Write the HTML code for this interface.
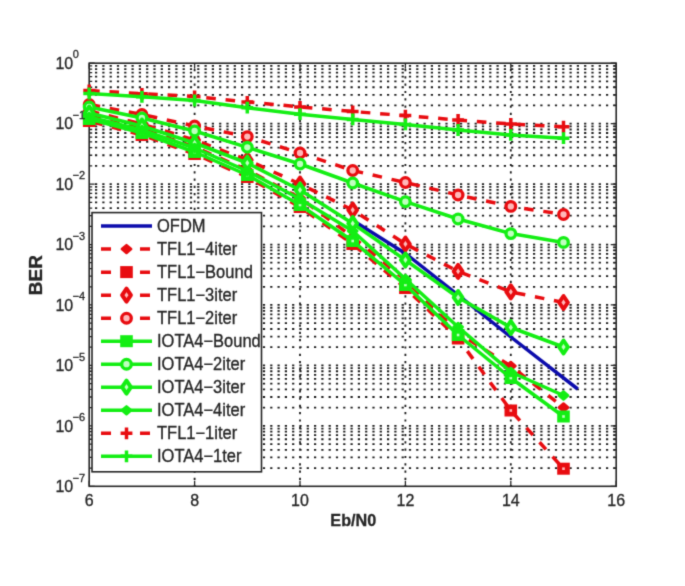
<!DOCTYPE html>
<html><head><meta charset="utf-8"><style>
html,body{margin:0;padding:0;background:#fff;}
body{width:685px;height:586px;overflow:hidden;}
svg{display:block;}
text{font-family:"Liberation Sans",sans-serif;fill:#262626;stroke:#262626;stroke-width:0.3px;}
</style></head><body>
<svg width="685" height="586" viewBox="0 0 685 586">
<defs><filter id="bl" x="0" y="0" width="685" height="586" filterUnits="userSpaceOnUse" color-interpolation-filters="sRGB"><feConvolveMatrix order="3" kernelMatrix="0.01917 0.10012 0.01917 0.10012 0.52283 0.10012 0.01917 0.10012 0.01917" divisor="1" edgeMode="duplicate"/></filter></defs>
<g filter="url(#bl)">
<rect width="685" height="586" fill="#fff"/>

<path d="M89.2 123.64H616.2 M89.2 105.45H616.2 M89.2 94.80H616.2 M89.2 87.25H616.2 M89.2 81.40H616.2 M89.2 76.61H616.2 M89.2 72.56H616.2 M89.2 69.06H616.2 M89.2 65.97H616.2 M89.2 184.09H616.2 M89.2 165.89H616.2 M89.2 155.25H616.2 M89.2 147.70H616.2 M89.2 141.84H616.2 M89.2 137.05H616.2 M89.2 133.01H616.2 M89.2 129.50H616.2 M89.2 126.41H616.2 M89.2 244.53H616.2 M89.2 226.33H616.2 M89.2 215.69H616.2 M89.2 208.14H616.2 M89.2 202.28H616.2 M89.2 197.49H616.2 M89.2 193.45H616.2 M89.2 189.94H616.2 M89.2 186.85H616.2 M89.2 304.97H616.2 M89.2 286.78H616.2 M89.2 276.13H616.2 M89.2 268.58H616.2 M89.2 262.72H616.2 M89.2 257.94H616.2 M89.2 253.89H616.2 M89.2 250.39H616.2 M89.2 247.29H616.2 M89.2 365.41H616.2 M89.2 347.22H616.2 M89.2 336.58H616.2 M89.2 329.02H616.2 M89.2 323.17H616.2 M89.2 318.38H616.2 M89.2 314.33H616.2 M89.2 310.83H616.2 M89.2 307.74H616.2 M89.2 425.86H616.2 M89.2 407.66H616.2 M89.2 397.02H616.2 M89.2 389.47H616.2 M89.2 383.61H616.2 M89.2 378.82H616.2 M89.2 374.78H616.2 M89.2 371.27H616.2 M89.2 368.18H616.2 M89.2 468.10H616.2 M89.2 457.46H616.2 M89.2 449.91H616.2 M89.2 444.05H616.2 M89.2 439.27H616.2 M89.2 435.22H616.2 M89.2 431.71H616.2 M89.2 428.62H616.2 M194.60 63.2V486.3 M300.00 63.2V486.3 M405.40 63.2V486.3 M510.80 63.2V486.3" stroke="#1c1c1c" stroke-width="1.8" stroke-dasharray="2.2 5.1" stroke-dashoffset="1.5" fill="none"/>
<path d="M89.2 63.20h5.5M616.2 63.20h-5.5 M89.2 123.64h5.5M616.2 123.64h-5.5 M89.2 105.45h3M616.2 105.45h-3 M89.2 94.80h3M616.2 94.80h-3 M89.2 87.25h3M616.2 87.25h-3 M89.2 81.40h3M616.2 81.40h-3 M89.2 76.61h3M616.2 76.61h-3 M89.2 72.56h3M616.2 72.56h-3 M89.2 69.06h3M616.2 69.06h-3 M89.2 65.97h3M616.2 65.97h-3 M89.2 184.09h5.5M616.2 184.09h-5.5 M89.2 165.89h3M616.2 165.89h-3 M89.2 155.25h3M616.2 155.25h-3 M89.2 147.70h3M616.2 147.70h-3 M89.2 141.84h3M616.2 141.84h-3 M89.2 137.05h3M616.2 137.05h-3 M89.2 133.01h3M616.2 133.01h-3 M89.2 129.50h3M616.2 129.50h-3 M89.2 126.41h3M616.2 126.41h-3 M89.2 244.53h5.5M616.2 244.53h-5.5 M89.2 226.33h3M616.2 226.33h-3 M89.2 215.69h3M616.2 215.69h-3 M89.2 208.14h3M616.2 208.14h-3 M89.2 202.28h3M616.2 202.28h-3 M89.2 197.49h3M616.2 197.49h-3 M89.2 193.45h3M616.2 193.45h-3 M89.2 189.94h3M616.2 189.94h-3 M89.2 186.85h3M616.2 186.85h-3 M89.2 304.97h5.5M616.2 304.97h-5.5 M89.2 286.78h3M616.2 286.78h-3 M89.2 276.13h3M616.2 276.13h-3 M89.2 268.58h3M616.2 268.58h-3 M89.2 262.72h3M616.2 262.72h-3 M89.2 257.94h3M616.2 257.94h-3 M89.2 253.89h3M616.2 253.89h-3 M89.2 250.39h3M616.2 250.39h-3 M89.2 247.29h3M616.2 247.29h-3 M89.2 365.41h5.5M616.2 365.41h-5.5 M89.2 347.22h3M616.2 347.22h-3 M89.2 336.58h3M616.2 336.58h-3 M89.2 329.02h3M616.2 329.02h-3 M89.2 323.17h3M616.2 323.17h-3 M89.2 318.38h3M616.2 318.38h-3 M89.2 314.33h3M616.2 314.33h-3 M89.2 310.83h3M616.2 310.83h-3 M89.2 307.74h3M616.2 307.74h-3 M89.2 425.86h5.5M616.2 425.86h-5.5 M89.2 407.66h3M616.2 407.66h-3 M89.2 397.02h3M616.2 397.02h-3 M89.2 389.47h3M616.2 389.47h-3 M89.2 383.61h3M616.2 383.61h-3 M89.2 378.82h3M616.2 378.82h-3 M89.2 374.78h3M616.2 374.78h-3 M89.2 371.27h3M616.2 371.27h-3 M89.2 368.18h3M616.2 368.18h-3 M89.2 486.30h5.5M616.2 486.30h-5.5 M89.2 468.10h3M616.2 468.10h-3 M89.2 457.46h3M616.2 457.46h-3 M89.2 449.91h3M616.2 449.91h-3 M89.2 444.05h3M616.2 444.05h-3 M89.2 439.27h3M616.2 439.27h-3 M89.2 435.22h3M616.2 435.22h-3 M89.2 431.71h3M616.2 431.71h-3 M89.2 428.62h3M616.2 428.62h-3 M89.20 486.3v-5.5M89.20 63.2v5.5 M194.60 486.3v-5.5M194.60 63.2v5.5 M300.00 486.3v-5.5M300.00 63.2v5.5 M405.40 486.3v-5.5M405.40 63.2v5.5 M510.80 486.3v-5.5M510.80 63.2v5.5 M616.20 486.3v-5.5M616.20 63.2v5.5" stroke="#262626" stroke-width="1.3" fill="none"/>
<rect x="89.2" y="63.2" width="527.0" height="423.1" stroke="#262626" stroke-width="1.6" fill="none"/>
<polyline points="353.8,221.0 405.4,253.5 458.1,295.0 510.8,337.0 577.7,389.0" stroke="#0c0cac" stroke-width="3.5" fill="none" stroke-linejoin="round"/>
<polyline points="89.2,116.0 141.9,129.0 194.6,147.0 247.3,170.0 300.0,198.0 352.7,237.0 405.4,280.0 458.1,333.0 510.8,366.0 563.5,407.5" stroke="#e80c10" stroke-width="3.5" fill="none" stroke-dasharray="9.6 9.8" stroke-dashoffset="17.30" stroke-linejoin="round"/>
<path d="M89.2 112.1L93.8 116.0L89.2 119.9L84.6 116.0Z" stroke="#e80c10" stroke-width="2.6" fill="#e80c10" stroke-linejoin="round"/>
<path d="M141.9 125.1L146.5 129.0L141.9 132.9L137.3 129.0Z" stroke="#e80c10" stroke-width="2.6" fill="#e80c10" stroke-linejoin="round"/>
<path d="M194.6 143.1L199.2 147.0L194.6 150.9L190.0 147.0Z" stroke="#e80c10" stroke-width="2.6" fill="#e80c10" stroke-linejoin="round"/>
<path d="M247.3 166.1L251.9 170.0L247.3 173.9L242.7 170.0Z" stroke="#e80c10" stroke-width="2.6" fill="#e80c10" stroke-linejoin="round"/>
<path d="M300.0 194.1L304.6 198.0L300.0 201.9L295.4 198.0Z" stroke="#e80c10" stroke-width="2.6" fill="#e80c10" stroke-linejoin="round"/>
<path d="M352.7 233.1L357.3 237.0L352.7 240.9L348.1 237.0Z" stroke="#e80c10" stroke-width="2.6" fill="#e80c10" stroke-linejoin="round"/>
<path d="M405.4 276.1L410.0 280.0L405.4 283.9L400.8 280.0Z" stroke="#e80c10" stroke-width="2.6" fill="#e80c10" stroke-linejoin="round"/>
<path d="M458.1 329.1L462.7 333.0L458.1 336.9L453.5 333.0Z" stroke="#e80c10" stroke-width="2.6" fill="#e80c10" stroke-linejoin="round"/>
<path d="M510.8 362.1L515.4 366.0L510.8 369.9L506.2 366.0Z" stroke="#e80c10" stroke-width="2.6" fill="#e80c10" stroke-linejoin="round"/>
<path d="M563.5 403.6L568.1 407.5L563.5 411.4L558.9 407.5Z" stroke="#e80c10" stroke-width="2.6" fill="#e80c10" stroke-linejoin="round"/>
<polyline points="89.2,121.0 141.9,135.0 194.6,154.0 247.3,177.0 300.0,207.0 352.7,244.0 405.4,288.0 458.1,338.5 510.8,410.5 563.5,468.7" stroke="#e80c10" stroke-width="3.5" fill="none" stroke-dasharray="9.6 9.8" stroke-dashoffset="15.26" stroke-linejoin="round"/>
<rect x="82.9" y="115.0" width="12.6" height="12.0" fill="#e80c10"/><rect x="87.9" y="119.7" width="2.6" height="2.6" fill="#ffb8b8"/>
<rect x="135.6" y="129.0" width="12.6" height="12.0" fill="#e80c10"/><rect x="140.6" y="133.7" width="2.6" height="2.6" fill="#ffb8b8"/>
<rect x="188.3" y="148.0" width="12.6" height="12.0" fill="#e80c10"/><rect x="193.3" y="152.7" width="2.6" height="2.6" fill="#ffb8b8"/>
<rect x="241.0" y="171.0" width="12.6" height="12.0" fill="#e80c10"/><rect x="246.0" y="175.7" width="2.6" height="2.6" fill="#ffb8b8"/>
<rect x="293.7" y="201.0" width="12.6" height="12.0" fill="#e80c10"/><rect x="298.7" y="205.7" width="2.6" height="2.6" fill="#ffb8b8"/>
<rect x="346.4" y="238.0" width="12.6" height="12.0" fill="#e80c10"/><rect x="351.4" y="242.7" width="2.6" height="2.6" fill="#ffb8b8"/>
<rect x="399.1" y="282.0" width="12.6" height="12.0" fill="#e80c10"/><rect x="404.1" y="286.7" width="2.6" height="2.6" fill="#ffb8b8"/>
<rect x="451.8" y="332.5" width="12.6" height="12.0" fill="#e80c10"/><rect x="456.8" y="337.2" width="2.6" height="2.6" fill="#ffb8b8"/>
<rect x="504.5" y="404.5" width="12.6" height="12.0" fill="#e80c10"/><rect x="509.5" y="409.2" width="2.6" height="2.6" fill="#ffb8b8"/>
<rect x="557.2" y="462.7" width="12.6" height="12.0" fill="#e80c10"/><rect x="562.2" y="467.4" width="2.6" height="2.6" fill="#ffb8b8"/>
<polyline points="89.2,111.0 141.9,124.0 194.6,140.0 247.3,160.0 300.0,184.0 352.7,210.0 405.4,244.0 458.1,271.4 510.8,291.9 563.5,302.5" stroke="#e80c10" stroke-width="3.5" fill="none" stroke-dasharray="9.6 9.8" stroke-dashoffset="18.77" stroke-linejoin="round"/>
<path d="M89.2 104.5L93.6 111.0L89.2 117.5L84.8 111.0Z" stroke="#e80c10" stroke-width="4.0" fill="#ffb8b8" stroke-linejoin="round"/>
<path d="M141.9 117.5L146.3 124.0L141.9 130.5L137.5 124.0Z" stroke="#e80c10" stroke-width="4.0" fill="#ffb8b8" stroke-linejoin="round"/>
<path d="M194.6 133.5L199.0 140.0L194.6 146.5L190.2 140.0Z" stroke="#e80c10" stroke-width="4.0" fill="#ffb8b8" stroke-linejoin="round"/>
<path d="M247.3 153.5L251.7 160.0L247.3 166.5L242.9 160.0Z" stroke="#e80c10" stroke-width="4.0" fill="#ffb8b8" stroke-linejoin="round"/>
<path d="M300.0 177.5L304.4 184.0L300.0 190.5L295.6 184.0Z" stroke="#e80c10" stroke-width="4.0" fill="#ffb8b8" stroke-linejoin="round"/>
<path d="M352.7 203.5L357.1 210.0L352.7 216.5L348.3 210.0Z" stroke="#e80c10" stroke-width="4.0" fill="#ffb8b8" stroke-linejoin="round"/>
<path d="M405.4 237.5L409.8 244.0L405.4 250.5L401.0 244.0Z" stroke="#e80c10" stroke-width="4.0" fill="#ffb8b8" stroke-linejoin="round"/>
<path d="M458.1 264.9L462.5 271.4L458.1 277.9L453.7 271.4Z" stroke="#e80c10" stroke-width="4.0" fill="#ffb8b8" stroke-linejoin="round"/>
<path d="M510.8 285.4L515.2 291.9L510.8 298.4L506.4 291.9Z" stroke="#e80c10" stroke-width="4.0" fill="#ffb8b8" stroke-linejoin="round"/>
<path d="M563.5 296.0L567.9 302.5L563.5 309.0L559.1 302.5Z" stroke="#e80c10" stroke-width="4.0" fill="#ffb8b8" stroke-linejoin="round"/>
<polyline points="89.2,104.5 141.9,114.5 194.6,126.0 247.3,136.6 300.0,153.0 352.7,170.5 405.4,182.5 458.1,195.0 510.8,206.4 563.5,214.5" stroke="#e80c10" stroke-width="3.5" fill="none" stroke-dasharray="9.6 9.8" stroke-dashoffset="17.93" stroke-linejoin="round"/>
<circle cx="89.2" cy="104.5" r="4.8" stroke="#e80c10" stroke-width="3.3" fill="#ffb8b8"/>
<circle cx="141.9" cy="114.5" r="4.8" stroke="#e80c10" stroke-width="3.3" fill="#ffb8b8"/>
<circle cx="194.6" cy="126.0" r="4.8" stroke="#e80c10" stroke-width="3.3" fill="#ffb8b8"/>
<circle cx="247.3" cy="136.6" r="4.8" stroke="#e80c10" stroke-width="3.3" fill="#ffb8b8"/>
<circle cx="300.0" cy="153.0" r="4.8" stroke="#e80c10" stroke-width="3.3" fill="#ffb8b8"/>
<circle cx="352.7" cy="170.5" r="4.8" stroke="#e80c10" stroke-width="3.3" fill="#ffb8b8"/>
<circle cx="405.4" cy="182.5" r="4.8" stroke="#e80c10" stroke-width="3.3" fill="#ffb8b8"/>
<circle cx="458.1" cy="195.0" r="4.8" stroke="#e80c10" stroke-width="3.3" fill="#ffb8b8"/>
<circle cx="510.8" cy="206.4" r="4.8" stroke="#e80c10" stroke-width="3.3" fill="#ffb8b8"/>
<circle cx="563.5" cy="214.5" r="4.8" stroke="#e80c10" stroke-width="3.3" fill="#ffb8b8"/>
<polyline points="89.2,119.0 141.9,133.0 194.6,152.0 247.3,175.0 300.0,205.0 352.7,241.0 405.4,285.0 458.1,335.0 510.8,378.0 563.5,416.5" stroke="#14ee14" stroke-width="3.5" fill="none" stroke-linejoin="round"/>
<rect x="82.9" y="113.0" width="12.6" height="12.0" fill="#14ee14"/><rect x="87.9" y="117.7" width="2.6" height="2.6" fill="#c0ffc0"/>
<rect x="135.6" y="127.0" width="12.6" height="12.0" fill="#14ee14"/><rect x="140.6" y="131.7" width="2.6" height="2.6" fill="#c0ffc0"/>
<rect x="188.3" y="146.0" width="12.6" height="12.0" fill="#14ee14"/><rect x="193.3" y="150.7" width="2.6" height="2.6" fill="#c0ffc0"/>
<rect x="241.0" y="169.0" width="12.6" height="12.0" fill="#14ee14"/><rect x="246.0" y="173.7" width="2.6" height="2.6" fill="#c0ffc0"/>
<rect x="293.7" y="199.0" width="12.6" height="12.0" fill="#14ee14"/><rect x="298.7" y="203.7" width="2.6" height="2.6" fill="#c0ffc0"/>
<rect x="346.4" y="235.0" width="12.6" height="12.0" fill="#14ee14"/><rect x="351.4" y="239.7" width="2.6" height="2.6" fill="#c0ffc0"/>
<rect x="399.1" y="279.0" width="12.6" height="12.0" fill="#14ee14"/><rect x="404.1" y="283.7" width="2.6" height="2.6" fill="#c0ffc0"/>
<rect x="451.8" y="329.0" width="12.6" height="12.0" fill="#14ee14"/><rect x="456.8" y="333.7" width="2.6" height="2.6" fill="#c0ffc0"/>
<rect x="504.5" y="372.0" width="12.6" height="12.0" fill="#14ee14"/><rect x="509.5" y="376.7" width="2.6" height="2.6" fill="#c0ffc0"/>
<rect x="557.2" y="410.5" width="12.6" height="12.0" fill="#14ee14"/><rect x="562.2" y="415.2" width="2.6" height="2.6" fill="#c0ffc0"/>
<polyline points="89.2,107.0 141.9,118.0 194.6,131.0 247.3,147.3 300.0,164.0 352.7,183.0 405.4,201.7 458.1,219.0 510.8,233.6 563.5,242.4" stroke="#14ee14" stroke-width="3.5" fill="none" stroke-linejoin="round"/>
<circle cx="89.2" cy="107.0" r="4.8" stroke="#14ee14" stroke-width="3.3" fill="#c0ffc0"/>
<circle cx="141.9" cy="118.0" r="4.8" stroke="#14ee14" stroke-width="3.3" fill="#c0ffc0"/>
<circle cx="194.6" cy="131.0" r="4.8" stroke="#14ee14" stroke-width="3.3" fill="#c0ffc0"/>
<circle cx="247.3" cy="147.3" r="4.8" stroke="#14ee14" stroke-width="3.3" fill="#c0ffc0"/>
<circle cx="300.0" cy="164.0" r="4.8" stroke="#14ee14" stroke-width="3.3" fill="#c0ffc0"/>
<circle cx="352.7" cy="183.0" r="4.8" stroke="#14ee14" stroke-width="3.3" fill="#c0ffc0"/>
<circle cx="405.4" cy="201.7" r="4.8" stroke="#14ee14" stroke-width="3.3" fill="#c0ffc0"/>
<circle cx="458.1" cy="219.0" r="4.8" stroke="#14ee14" stroke-width="3.3" fill="#c0ffc0"/>
<circle cx="510.8" cy="233.6" r="4.8" stroke="#14ee14" stroke-width="3.3" fill="#c0ffc0"/>
<circle cx="563.5" cy="242.4" r="4.8" stroke="#14ee14" stroke-width="3.3" fill="#c0ffc0"/>
<polyline points="89.2,113.0 141.9,126.0 194.6,143.0 247.3,163.0 300.0,190.0 352.7,223.5 405.4,260.0 458.1,297.5 510.8,327.5 563.5,347.0" stroke="#14ee14" stroke-width="3.5" fill="none" stroke-linejoin="round"/>
<path d="M89.2 106.5L93.6 113.0L89.2 119.5L84.8 113.0Z" stroke="#14ee14" stroke-width="4.0" fill="#c0ffc0" stroke-linejoin="round"/>
<path d="M141.9 119.5L146.3 126.0L141.9 132.5L137.5 126.0Z" stroke="#14ee14" stroke-width="4.0" fill="#c0ffc0" stroke-linejoin="round"/>
<path d="M194.6 136.5L199.0 143.0L194.6 149.5L190.2 143.0Z" stroke="#14ee14" stroke-width="4.0" fill="#c0ffc0" stroke-linejoin="round"/>
<path d="M247.3 156.5L251.7 163.0L247.3 169.5L242.9 163.0Z" stroke="#14ee14" stroke-width="4.0" fill="#c0ffc0" stroke-linejoin="round"/>
<path d="M300.0 183.5L304.4 190.0L300.0 196.5L295.6 190.0Z" stroke="#14ee14" stroke-width="4.0" fill="#c0ffc0" stroke-linejoin="round"/>
<path d="M352.7 217.0L357.1 223.5L352.7 230.0L348.3 223.5Z" stroke="#14ee14" stroke-width="4.0" fill="#c0ffc0" stroke-linejoin="round"/>
<path d="M405.4 253.5L409.8 260.0L405.4 266.5L401.0 260.0Z" stroke="#14ee14" stroke-width="4.0" fill="#c0ffc0" stroke-linejoin="round"/>
<path d="M458.1 291.0L462.5 297.5L458.1 304.0L453.7 297.5Z" stroke="#14ee14" stroke-width="4.0" fill="#c0ffc0" stroke-linejoin="round"/>
<path d="M510.8 321.0L515.2 327.5L510.8 334.0L506.4 327.5Z" stroke="#14ee14" stroke-width="4.0" fill="#c0ffc0" stroke-linejoin="round"/>
<path d="M563.5 340.5L567.9 347.0L563.5 353.5L559.1 347.0Z" stroke="#14ee14" stroke-width="4.0" fill="#c0ffc0" stroke-linejoin="round"/>
<polyline points="89.2,117.0 141.9,130.0 194.6,148.0 247.3,171.0 300.0,199.0 352.7,231.0 405.4,279.0 458.1,327.0 510.8,372.0 563.5,395.5" stroke="#14ee14" stroke-width="3.5" fill="none" stroke-linejoin="round"/>
<path d="M89.2 113.1L93.8 117.0L89.2 120.9L84.6 117.0Z" stroke="#14ee14" stroke-width="2.6" fill="#14ee14" stroke-linejoin="round"/>
<path d="M141.9 126.1L146.5 130.0L141.9 133.9L137.3 130.0Z" stroke="#14ee14" stroke-width="2.6" fill="#14ee14" stroke-linejoin="round"/>
<path d="M194.6 144.1L199.2 148.0L194.6 151.9L190.0 148.0Z" stroke="#14ee14" stroke-width="2.6" fill="#14ee14" stroke-linejoin="round"/>
<path d="M247.3 167.1L251.9 171.0L247.3 174.9L242.7 171.0Z" stroke="#14ee14" stroke-width="2.6" fill="#14ee14" stroke-linejoin="round"/>
<path d="M300.0 195.1L304.6 199.0L300.0 202.9L295.4 199.0Z" stroke="#14ee14" stroke-width="2.6" fill="#14ee14" stroke-linejoin="round"/>
<path d="M352.7 227.1L357.3 231.0L352.7 234.9L348.1 231.0Z" stroke="#14ee14" stroke-width="2.6" fill="#14ee14" stroke-linejoin="round"/>
<path d="M405.4 275.1L410.0 279.0L405.4 282.9L400.8 279.0Z" stroke="#14ee14" stroke-width="2.6" fill="#14ee14" stroke-linejoin="round"/>
<path d="M458.1 323.1L462.7 327.0L458.1 330.9L453.5 327.0Z" stroke="#14ee14" stroke-width="2.6" fill="#14ee14" stroke-linejoin="round"/>
<path d="M510.8 368.1L515.4 372.0L510.8 375.9L506.2 372.0Z" stroke="#14ee14" stroke-width="2.6" fill="#14ee14" stroke-linejoin="round"/>
<path d="M563.5 391.6L568.1 395.5L563.5 399.4L558.9 395.5Z" stroke="#14ee14" stroke-width="2.6" fill="#14ee14" stroke-linejoin="round"/>
<polyline points="89.2,90.5 141.9,93.8 194.6,96.5 247.3,101.9 300.0,106.9 352.7,111.5 405.4,115.6 458.1,120.0 510.8,124.0 563.5,126.7" stroke="#e80c10" stroke-width="3.5" fill="none" stroke-dasharray="9.6 9.8" stroke-dashoffset="18.51" stroke-linejoin="round"/>
<path d="M83.3 90.5H95.1M89.2 84.6V96.4" stroke="#e80c10" stroke-width="3.5" fill="none"/>
<path d="M136.0 93.8H147.8M141.9 87.9V99.7" stroke="#e80c10" stroke-width="3.5" fill="none"/>
<path d="M188.7 96.5H200.5M194.6 90.6V102.4" stroke="#e80c10" stroke-width="3.5" fill="none"/>
<path d="M241.4 101.9H253.2M247.3 96.0V107.8" stroke="#e80c10" stroke-width="3.5" fill="none"/>
<path d="M294.1 106.9H305.9M300.0 101.0V112.8" stroke="#e80c10" stroke-width="3.5" fill="none"/>
<path d="M346.8 111.5H358.6M352.7 105.6V117.4" stroke="#e80c10" stroke-width="3.5" fill="none"/>
<path d="M399.5 115.6H411.3M405.4 109.7V121.5" stroke="#e80c10" stroke-width="3.5" fill="none"/>
<path d="M452.2 120.0H464.0M458.1 114.1V125.9" stroke="#e80c10" stroke-width="3.5" fill="none"/>
<path d="M504.9 124.0H516.7M510.8 118.1V129.9" stroke="#e80c10" stroke-width="3.5" fill="none"/>
<path d="M557.6 126.7H569.4M563.5 120.8V132.6" stroke="#e80c10" stroke-width="3.5" fill="none"/>
<polyline points="89.2,93.5 141.9,96.8 194.6,100.5 247.3,107.7 300.0,114.2 352.7,119.4 405.4,124.4 458.1,130.0 510.8,134.9 563.5,138.2" stroke="#14ee14" stroke-width="3.5" fill="none" stroke-linejoin="round"/>
<path d="M83.3 93.5H95.1M89.2 87.6V99.4" stroke="#14ee14" stroke-width="3.5" fill="none"/>
<path d="M136.0 96.8H147.8M141.9 90.9V102.7" stroke="#14ee14" stroke-width="3.5" fill="none"/>
<path d="M188.7 100.5H200.5M194.6 94.6V106.4" stroke="#14ee14" stroke-width="3.5" fill="none"/>
<path d="M241.4 107.7H253.2M247.3 101.8V113.6" stroke="#14ee14" stroke-width="3.5" fill="none"/>
<path d="M294.1 114.2H305.9M300.0 108.3V120.1" stroke="#14ee14" stroke-width="3.5" fill="none"/>
<path d="M346.8 119.4H358.6M352.7 113.5V125.3" stroke="#14ee14" stroke-width="3.5" fill="none"/>
<path d="M399.5 124.4H411.3M405.4 118.5V130.3" stroke="#14ee14" stroke-width="3.5" fill="none"/>
<path d="M452.2 130.0H464.0M458.1 124.1V135.9" stroke="#14ee14" stroke-width="3.5" fill="none"/>
<path d="M504.9 134.9H516.7M510.8 129.0V140.8" stroke="#14ee14" stroke-width="3.5" fill="none"/>
<path d="M557.6 138.2H569.4M563.5 132.3V144.1" stroke="#14ee14" stroke-width="3.5" fill="none"/>
<text transform="translate(89.2 506.2) scale(1 1.08)" font-size="16" text-anchor="middle">6</text>
<text transform="translate(194.6 506.2) scale(1 1.08)" font-size="16" text-anchor="middle">8</text>
<text transform="translate(300.0 506.2) scale(1 1.08)" font-size="16" text-anchor="middle">10</text>
<text transform="translate(405.4 506.2) scale(1 1.08)" font-size="16" text-anchor="middle">12</text>
<text transform="translate(510.8 506.2) scale(1 1.08)" font-size="16" text-anchor="middle">14</text>
<text transform="translate(616.2 506.2) scale(1 1.08)" font-size="16" text-anchor="middle">16</text>
<text transform="translate(55.4 68.9) scale(1 1.05)" font-size="16">10<tspan font-size="11" dy="-10" dx="-0.5">0</tspan></text>
<text transform="translate(55.4 129.3) scale(1 1.05)" font-size="16">10<tspan font-size="11" dy="-10" dx="-0.5">−1</tspan></text>
<text transform="translate(55.4 189.8) scale(1 1.05)" font-size="16">10<tspan font-size="11" dy="-10" dx="-0.5">−2</tspan></text>
<text transform="translate(55.4 250.2) scale(1 1.05)" font-size="16">10<tspan font-size="11" dy="-10" dx="-0.5">−3</tspan></text>
<text transform="translate(55.4 310.7) scale(1 1.05)" font-size="16">10<tspan font-size="11" dy="-10" dx="-0.5">−4</tspan></text>
<text transform="translate(55.4 371.1) scale(1 1.05)" font-size="16">10<tspan font-size="11" dy="-10" dx="-0.5">−5</tspan></text>
<text transform="translate(55.4 431.6) scale(1 1.05)" font-size="16">10<tspan font-size="11" dy="-10" dx="-0.5">−6</tspan></text>
<text transform="translate(55.4 492.0) scale(1 1.05)" font-size="16">10<tspan font-size="11" dy="-10" dx="-0.5">−7</tspan></text>
<text transform="translate(353.3 526.4) scale(1 1.07)" font-size="16.2" font-weight="bold" text-anchor="middle">Eb/N0</text>
<text transform="translate(42.3 275.2) rotate(-90)" font-size="19" font-weight="bold" text-anchor="middle">BER</text>
<rect x="92.0" y="212.6" width="169.5" height="259.2" fill="#fff" stroke="#262626" stroke-width="1.6"/>
<path d="M101.0 226.1H152.0" stroke="#0c0cac" stroke-width="3.5"/>
<text transform="translate(157 232.2) scale(1 1.07)" font-size="16.5">OFDM</text>
<path d="M101.0 249.12h10M140 249.12h10" stroke="#e80c10" stroke-width="3.5"/>
<path d="M126.5 245.2L131.1 249.1L126.5 253.0L121.9 249.1Z" stroke="#e80c10" stroke-width="2.6" fill="#e80c10" stroke-linejoin="round"/>
<text transform="translate(157 255.2) scale(1 1.07)" font-size="16.5">TFL1−4iter</text>
<path d="M101.0 272.14h10M140 272.14h10" stroke="#e80c10" stroke-width="3.5"/>
<rect x="120.2" y="266.1" width="12.6" height="12.0" fill="#e80c10"/>
<text transform="translate(157 278.2) scale(1 1.07)" font-size="16.5">TFL1−Bound</text>
<path d="M101.0 295.15999999999997h10M140 295.15999999999997h10" stroke="#e80c10" stroke-width="3.5"/>
<path d="M126.5 288.7L130.9 295.2L126.5 301.7L122.1 295.2Z" stroke="#e80c10" stroke-width="4.0" fill="#ffb8b8" stroke-linejoin="round"/>
<text transform="translate(157 301.3) scale(1 1.07)" font-size="16.5">TFL1−3iter</text>
<path d="M101.0 318.18h10M140 318.18h10" stroke="#e80c10" stroke-width="3.5"/>
<circle cx="126.5" cy="318.2" r="4.8" stroke="#e80c10" stroke-width="3.3" fill="#ffb8b8"/>
<text transform="translate(157 324.3) scale(1 1.07)" font-size="16.5">TFL1−2iter</text>
<path d="M101.0 341.2H152.0" stroke="#14ee14" stroke-width="3.5"/>
<rect x="120.2" y="335.2" width="12.6" height="12.0" fill="#14ee14"/>
<text transform="translate(157 347.3) scale(1 1.07)" font-size="16.5">IOTA4−Bound</text>
<path d="M101.0 364.22H152.0" stroke="#14ee14" stroke-width="3.5"/>
<circle cx="126.5" cy="364.2" r="4.8" stroke="#14ee14" stroke-width="3.3" fill="#c0ffc0"/>
<text transform="translate(157 370.3) scale(1 1.07)" font-size="16.5">IOTA4−2iter</text>
<path d="M101.0 387.24H152.0" stroke="#14ee14" stroke-width="3.5"/>
<path d="M126.5 380.7L130.9 387.2L126.5 393.7L122.1 387.2Z" stroke="#14ee14" stroke-width="4.0" fill="#c0ffc0" stroke-linejoin="round"/>
<text transform="translate(157 393.3) scale(1 1.07)" font-size="16.5">IOTA4−3iter</text>
<path d="M101.0 410.26H152.0" stroke="#14ee14" stroke-width="3.5"/>
<path d="M126.5 406.4L131.1 410.3L126.5 414.2L121.9 410.3Z" stroke="#14ee14" stroke-width="2.6" fill="#14ee14" stroke-linejoin="round"/>
<text transform="translate(157 416.4) scale(1 1.07)" font-size="16.5">IOTA4−4iter</text>
<path d="M101.0 433.28h10M140 433.28h10" stroke="#e80c10" stroke-width="3.5"/>
<path d="M120.6 433.3H132.4M126.5 427.4V439.2" stroke="#e80c10" stroke-width="3.5" fill="none"/>
<text transform="translate(157 439.4) scale(1 1.07)" font-size="16.5">TFL1−1iter</text>
<path d="M101.0 456.29999999999995H152.0" stroke="#14ee14" stroke-width="3.5"/>
<path d="M120.6 456.3H132.4M126.5 450.4V462.2" stroke="#14ee14" stroke-width="3.5" fill="none"/>
<text transform="translate(157 462.4) scale(1 1.07)" font-size="16.5">IOTA4−1ter</text>
</g></svg></body></html>
